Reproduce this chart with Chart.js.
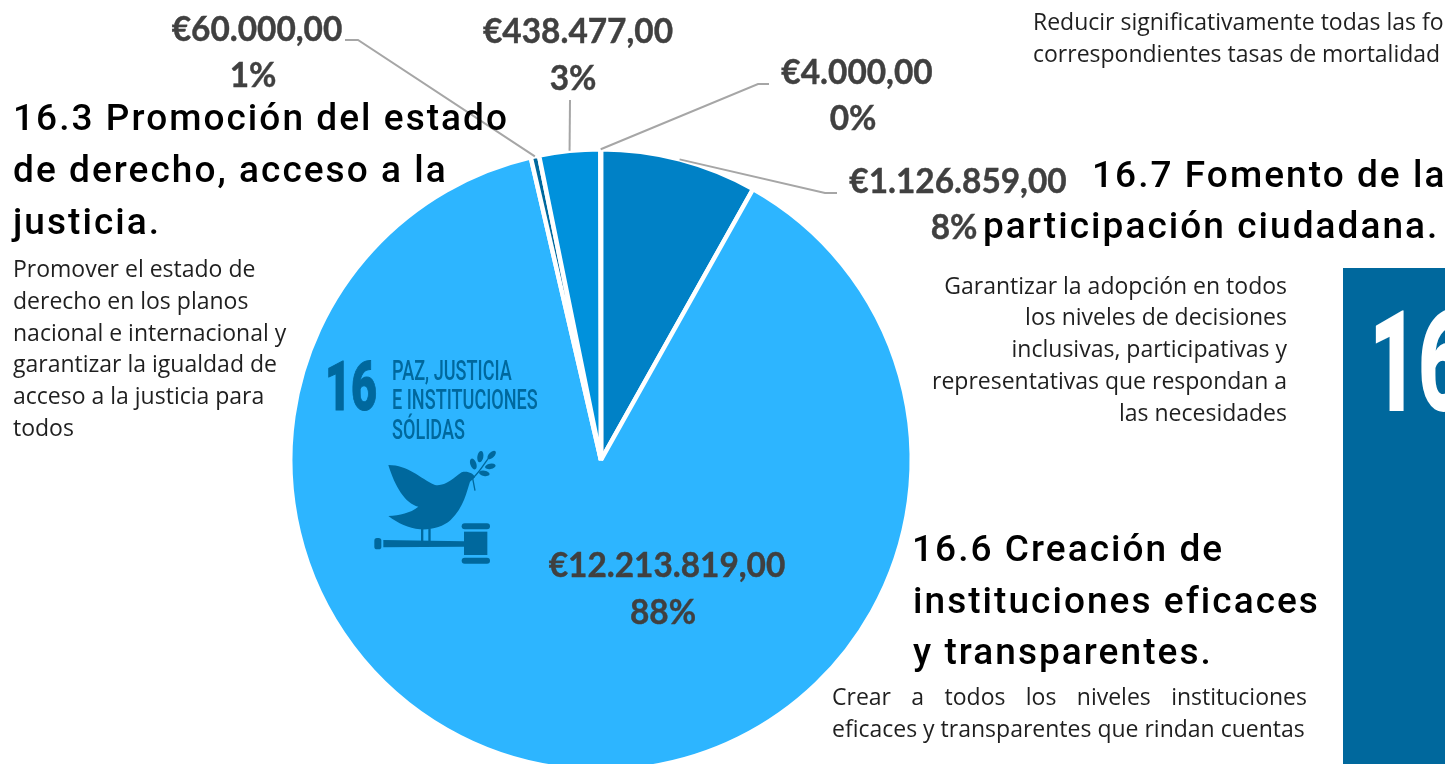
<!DOCTYPE html>
<html>
<head>
<meta charset="utf-8">
<script src="https://cdn.jsdelivr.net/npm/chart.js@4/dist/chart.umd.min.js"></script>
<style>
  html, body { margin: 0; padding: 0; background: #fff; overflow: hidden; }
  #page { position: relative; width: 1445px; height: 764px; overflow: hidden; }
  #pie { position: absolute; left: 0; top: 0; }
  .t { position: absolute; white-space: nowrap; transform-origin: left center; }
  .head { font: 500 37px/52px Roboto, sans-serif; letter-spacing: 2.05px; color: #000; }
  .body { font: 400 23px/32px "Open Sans", sans-serif; color: #1f1f1f; }
  .sdg { font-family: Roboto, sans-serif; font-weight: 500; color: #00689d; }
  #box { position: absolute; left: 1343px; top: 268px; width: 102px; height: 496px; background: #00689d; }
</style>
</head>
<body>
<div id="page">
  <canvas id="pie" width="1445" height="800"></canvas>
  <svg style="position:absolute;left:320px;top:350px" width="240" height="220" viewBox="0 0 720 660" fill="#00689d">
    <path d="M205,345 C265,345 300,385 345,405 C375,410 400,385 425,367 C442,362 460,370 465,382 L450,395 C440,425 432,470 392,510 C370,530 335,540 300,538 C265,535 235,520 205,498 C240,495 270,490 295,470 C255,460 225,410 205,345 Z"/>
    <path d="M465,422 L458,385 C480,365 490,345 505,325" fill="none" stroke="#00689d" stroke-width="4"/>
    <ellipse cx="460" cy="342" rx="9" ry="17" transform="rotate(-20 460 342)"/>
    <ellipse cx="481" cy="320" rx="9" ry="17" transform="rotate(10 481 320)"/>
    <ellipse cx="515" cy="315" rx="8" ry="16" transform="rotate(45 515 315)"/>
    <ellipse cx="511" cy="349" rx="16" ry="8" transform="rotate(-10 511 349)"/>
    <ellipse cx="493" cy="370" rx="16" ry="8" transform="rotate(10 493 370)"/>
    <rect x="303" y="535" width="7" height="38"/>
    <rect x="325" y="535" width="7" height="38"/>
    <path d="M190,570 L432,574 L432,590 L190,592 Z"/>
    <rect x="163" y="564" width="21" height="34" rx="8"/>
    <rect x="432" y="545" width="70" height="70"/>
    <rect x="425" y="520" width="85" height="18" rx="9"/>
    <rect x="425" y="623" width="85" height="18" rx="9"/>
  </svg>
  <div id="box"></div>
</div>
<script>
// importes por meta, en el sentido de las agujas del reloj desde arriba
const categories = ['16.7', '16.6', '16.3', '16.5', '16.x'];
const amounts = [1126859, 12213819, 60000, 438477, 4000];
const amountLabels = ['€1.126.859,00', '€12.213.819,00', '€60.000,00', '€438.477,00', '€4.000,00'];
const percentLabels = ['8%', '88%', '1%', '3%', '0%'];
const sliceColors = ['#0081c6', '#2db5ff', '#00689d', '#0091dc', '#00689d'];

// centro de cada etiqueta: [x, y importe, x %, y %], y codo de la guia (null = sin guia)
const labelSpots = [
  [958, 182, 954, 228],
  [667, 566, 663, 613],
  [257, 30, 253, 76],
  [578, 32, 573, 79],
  [857, 73, 853, 119]
];
const leaderElbows = [
  [[825, 193], [837, 193]],
  null,
  [[358, 40], [345, 40]],
  [[570, 100]],
  [[758, 84], [769, 84]]
];

const headings = [
  ['16.3 Promoción del estado', 13, 118],
  ['de derecho, acceso a la', 13, 170],
  ['justicia.', 13, 222],
  ['16.7 Fomento de la', 1092, 175],
  ['participación ciudadana.', 983, 226],
  ['16.6 Creación de', 912, 549],
  ['instituciones eficaces', 913, 601],
  ['y transparentes.', 913, 652]
];
const bodyLeft = [
  ['Promover el estado de', 13, 268],
  ['derecho en los planos', 13, 300],
  ['nacional e internacional y', 13, 332],
  ['garantizar la igualdad de', 13, 363],
  ['acceso a la justicia para', 13, 395],
  ['todos', 13, 427],
  ['Reducir significativamente todas las formas de violencia y las', 1033, 21],
  ['correspondientes tasas de mortalidad en todo el mundo', 1033, 53],
  ['eficaces y transparentes que rindan cuentas', 832, 728]
];
const bodyRight = [
  ['Garantizar la adopción en todos', 1287, 285],
  ['los niveles de decisiones', 1287, 316],
  ['inclusivas, participativas y', 1287, 348],
  ['representativas que respondan a', 1287, 380],
  ['las necesidades', 1287, 412]
];

const page = document.getElementById('page');
function addText(cls, txt, x, y, extra) {
  const d = document.createElement('div');
  d.className = 't ' + cls;
  d.textContent = txt;
  d.style.left = x + 'px';
  d.style.top = y + 'px';
  d.style.transform = 'translateY(-50%)' + (extra && extra.sx ? ' scaleX(' + extra.sx + ')' : '');
  if (extra) Object.assign(d.style, extra.css || {});
  page.appendChild(d);
  return d;
}
headings.forEach(h => addText('head', h[0], h[1], h[2]));
bodyLeft.forEach(b => addText('body', b[0], b[1], b[2]));
bodyRight.forEach(b => {
  const d = addText('body', b[0], 0, b[2]);
  d.style.left = 'auto';
  d.style.right = (1445 - b[1]) + 'px';
  d.style.transformOrigin = 'right center';
});
addText('body', 'Crear a todos los niveles instituciones', 832, 696, { css: { width: '475px', whiteSpace: 'normal', textAlign: 'justify', textAlignLast: 'justify' } });

addText('sdg', '16', 325, 387, { sx: 0.66, css: { fontSize: '68px', fontWeight: '900', lineHeight: '68px', webkitTextStroke: '1px #00689d' } });
addText('sdg', 'PAZ, JUSTICIA', 392, 371, { sx: 0.67, css: { fontSize: '27px', lineHeight: '30px' } });
addText('sdg', 'E INSTITUCIONES', 392, 400, { sx: 0.67, css: { fontSize: '27px', lineHeight: '30px' } });
addText('sdg', 'SÓLIDAS', 392, 430, { sx: 0.67, css: { fontSize: '27px', lineHeight: '30px' } });
addText('sdg', '16', 1369, 362, { sx: 0.6, css: { fontSize: '141px', fontWeight: '900', lineHeight: '141px', color: '#fff' } });

// etiquetas y guias, ancladas al borde exterior de cada porcion
const pieLabels = {
  id: 'pieLabels',
  afterDatasetsDraw(chart) {
    const ctx = chart.ctx;
    chart.getDatasetMeta(0).data.forEach((arc, i) => {
      const { x, y, startAngle, endAngle, outerRadius } = arc.getProps(['x', 'y', 'startAngle', 'endAngle', 'outerRadius'], true);
      const mid = (startAngle + endAngle) / 2;
      if (leaderElbows[i]) {
        ctx.beginPath();
        ctx.moveTo(x + Math.cos(mid) * outerRadius, y + Math.sin(mid) * outerRadius);
        leaderElbows[i].forEach(p => ctx.lineTo(p[0], p[1]));
        ctx.strokeStyle = '#a6a6a6';
        ctx.lineWidth = 2;
        ctx.stroke();
      }
      const s = labelSpots[i];
      ctx.fillStyle = '#404040';
      ctx.strokeStyle = '#404040';
      ctx.lineWidth = 0.4;
      ctx.font = '700 33.4px Lato, sans-serif';
      ctx.textAlign = 'center';
      ctx.textBaseline = 'middle';
      ctx.fillText(amountLabels[i], s[0], s[1]);
      ctx.strokeText(amountLabels[i], s[0], s[1]);
      ctx.fillText(percentLabels[i], s[2], s[3]);
      ctx.strokeText(percentLabels[i], s[2], s[3]);
    });
  }
};

new Chart(document.getElementById('pie'), {
  type: 'pie',
  data: {
    labels: categories,
    datasets: [{
      data: amounts,
      backgroundColor: sliceColors,
      borderColor: '#fff',
      borderWidth: 4.5
    }]
  },
  options: {
    responsive: false,
    animation: false,
    layout: { padding: { left: 288, top: 147, right: 531, bottom: 27 } },
    plugins: { legend: { display: false }, tooltip: { enabled: false } }
  },
  plugins: [pieLabels]
});
</script>
</body>
</html>
